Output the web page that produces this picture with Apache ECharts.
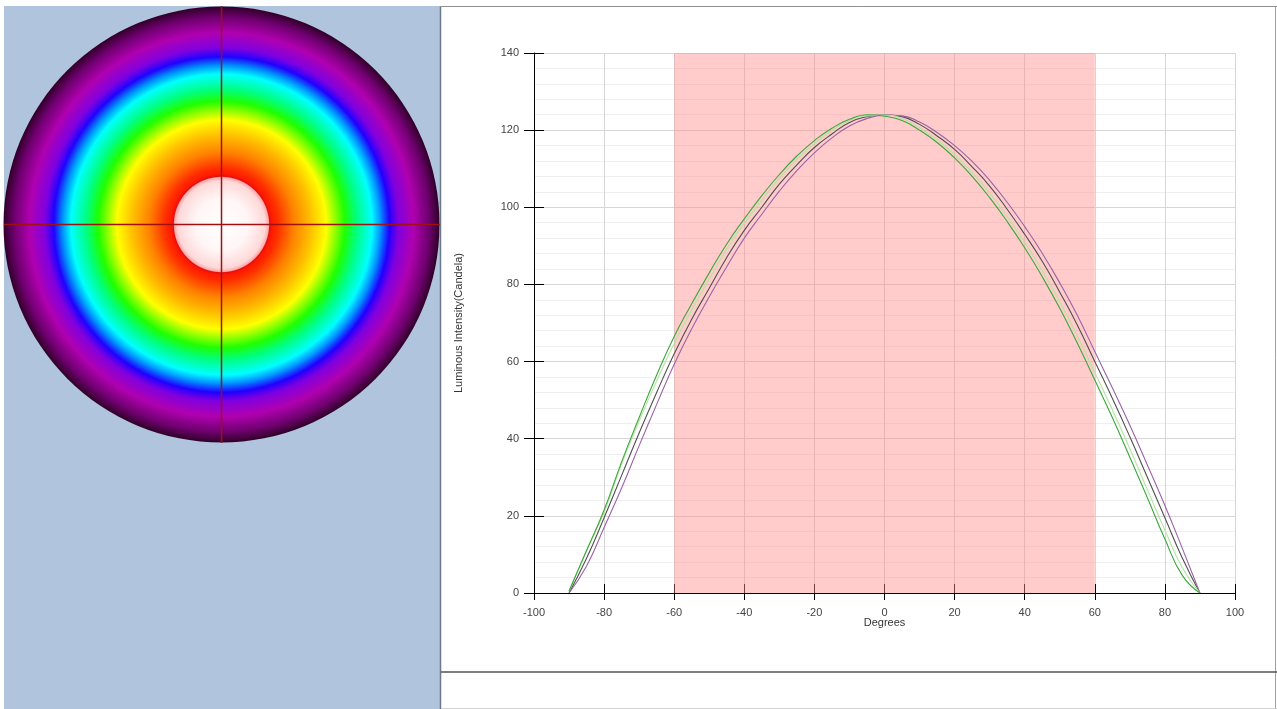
<!DOCTYPE html>
<html><head><meta charset="utf-8">
<script src="https://cdn.jsdelivr.net/npm/echarts@6/dist/echarts.min.js"></script>
<style>html,body{margin:0;padding:0;background:#fff;}#c{width:1277px;height:709px;}</style>
</head><body><div id="c"></div>
<script>
const degrees = [-90,-85,-80,-75,-70,-65,-60,-55,-50,-45,-40,-35,-30,-25,-20,-15,-10,-5,0,5,10,15,20,25,30,35,40,45,50,55,60,65,70,75,80,85,90];
const curveGreen = [0.5,11,21.5,34,45.5,56.5,66.5,75,83,90.5,97,103,108.5,113.3,117.3,120.5,122.8,124,123.6,122.5,120,116.8,112.8,108,102.5,96.3,89.5,82,73.8,64.8,55.2,45.5,35.2,24.7,14,4.5,0];
const curvePaleGreen = [0.5,11,21,33.5,44.6,55,64.7,73.4,81.4,89.1,95.8,101.8,107.5,112.4,116.5,119.9,122.5,123.7,123.9,123,120.6,117.5,113.7,109,103.7,97.6,90.9,83.6,75.5,66.7,57.2,47.5,37.4,26.8,16.3,6.5,0];
const curveDark = [0,9,19.5,30.5,41.5,52,62,71,79,87,94,100,106,111,115.5,119,122,123.5,124,123.5,121.5,118.5,115,110.5,105.5,99.5,93,86,78,69.5,60,50.5,40.5,30,19.5,9,0];
const curvePurple = [0,7,17,27.2,38.2,48.9,59.3,68.5,76.8,84.6,92,98.2,104.2,109.5,114.1,118,121.1,123,123.9,123.7,122.1,119.4,116,111.9,107,101.3,95,88.1,80.4,72,62.6,53.2,43.5,33.2,22.7,11.5,0];
const xTicks = [-100,-80,-60,-40,-20,0,20,40,60,80,100];
const yTicks = [0,20,40,60,80,100,120,140];
const highlightRange = [-60, 60];
const xName = 'Degrees';
const yName = 'Luminous Intensity(Candela)';

const FONT = 'Liberation Sans, Arial, sans-serif';
const xMin = xTicks[0], xMax = xTicks[xTicks.length-1], xInt = xTicks[1]-xTicks[0];
const yMin = yTicks[0], yMax = yTicks[yTicks.length-1], yInt = yTicks[1]-yTicks[0];
const pairs = arr => degrees.map((d,i)=>[d, arr[i]]);

const chart = echarts.init(document.getElementById('c'), null, {renderer:'canvas'});

const labelStyle = {color:'#444', fontSize:11, fontFamily:FONT};
const lineSeries = (name, arr, color, w) => ({
  name, type:'line', data:pairs(arr), smooth:true, showSymbol:false, z:3,
  lineStyle:{color, width:w}, itemStyle:{color}, silent:true
});

chart.setOption({
  animation:false,
  backgroundColor:'#ffffff',
  grid:{left:534, right:42, top:53, bottom:116, containLabel:false},
  xAxis:[{
    type:'value', min:xMin, max:xMax, interval:xInt,
    name:xName, nameLocation:'middle', nameGap:24, nameMoveOverlap:false,
    nameTextStyle:{color:'#333', fontSize:11, fontFamily:FONT},
    axisLine:{show:true, onZero:false, lineStyle:{color:'#000', width:1}},
    axisTick:{show:true, length:7, lineStyle:{color:'#000'}},
    axisLabel:{...labelStyle, margin:14},
    splitLine:{show:true, lineStyle:{color:'#d6d6d6', width:1}}
  },{
    type:'value', min:xMin, max:xMax, interval:xInt, position:'bottom', offset:0,
    axisLine:{show:false, onZero:false}, axisTick:{show:true, inside:true, length:9, lineStyle:{color:'#000'}},
    axisLabel:{show:false}, splitLine:{show:false}
  }],
  yAxis:[{
    type:'value', min:yMin, max:yMax, interval:yInt,
    name:yName, nameLocation:'middle', nameGap:70, nameMoveOverlap:false,
    nameTextStyle:{color:'#333', fontSize:11, fontFamily:FONT},
    axisLine:{show:true, onZero:false, lineStyle:{color:'#000', width:1}},
    axisTick:{show:true, length:10, lineStyle:{color:'#000'}},
    axisLabel:{...labelStyle, margin:15},
    splitLine:{show:true, lineStyle:{color:'#d6d6d6', width:1}},
    minorTick:{show:false, splitNumber:5},
    minorSplitLine:{show:true, lineStyle:{color:'#efefef', width:1}}
  },{
    type:'value', min:yMin, max:yMax, interval:yInt, position:'left', offset:0,
    axisLine:{show:false, onZero:false}, axisTick:{show:true, inside:true, length:10, lineStyle:{color:'#000'}},
    axisLabel:{show:false}, splitLine:{show:false}
  }],
  series:[
    {type:'line', data:[], z:1, silent:true,
     markArea:{silent:true, itemStyle:{color:'rgba(255,140,140,0.45)'},
       data:[[{xAxis:highlightRange[0]},{xAxis:highlightRange[1]}]]}},
    lineSeries('Dark', curveDark, '#505050', 1.1),
    lineSeries('Purple', curvePurple, '#9a62a8', 1.1),
    lineSeries('PaleGreen', curvePaleGreen, '#b4e4a0', 1.1),
    lineSeries('Green', curveGreen, '#3aa83a', 1.1)
  ],
  graphic:[
    {type:'rect', z:-5, silent:true, shape:{x:4, y:6, width:436, height:703}, style:{fill:'#b0c4de'}},
    {type:'circle', z:1, silent:true, shape:{cx:221.5, cy:224.5, r:218},
     style:{fill:new echarts.graphic.RadialGradient(0.5,0.5,0.5,[
       {offset:0, color:'#ffffff'},
       {offset:0.12, color:'#fff6f6'},
       {offset:0.2, color:'#ffd8d8'},
       {offset:0.216, color:'#ffa8a8'},
       {offset:0.221, color:'#e01010'},
       {offset:0.23, color:'#ff1800'},
       {offset:0.26, color:'#ff3000'},
       {offset:0.33, color:'#ff8000'},
       {offset:0.41, color:'#ffc000'},
       {offset:0.48, color:'#ffff00'},
       {offset:0.565, color:'#20ff00'},
       {offset:0.62, color:'#00ff80'},
       {offset:0.69, color:'#00ffff'},
       {offset:0.73, color:'#0090ff'},
       {offset:0.77, color:'#2000ff'},
       {offset:0.81, color:'#8000e0'},
       {offset:0.88, color:'#b000b0'},
       {offset:0.95, color:'#700070'},
       {offset:1, color:'#300028'}
     ])}},
    {type:'line', z:2, silent:true, shape:{x1:221.5, y1:6, x2:221.5, y2:443}, style:{stroke:'#a01010', lineWidth:1.5}},
    {type:'line', z:2, silent:true, shape:{x1:4, y1:224.5, x2:440, y2:224.5}, style:{stroke:'#a01010', lineWidth:1.5}},
    {type:'line', z:2, silent:true, shape:{x1:440.5, y1:6, x2:440.5, y2:709}, style:{stroke:'#6a7a8a', lineWidth:1.5}},
    {type:'line', z:2, silent:true, shape:{x1:440, y1:6.5, x2:1277, y2:6.5}, style:{stroke:'#909090', lineWidth:1}},
    {type:'line', z:2, silent:true, shape:{x1:1275.5, y1:6, x2:1275.5, y2:709}, style:{stroke:'#a0a0a0', lineWidth:1}},
    {type:'line', z:2, silent:true, shape:{x1:441, y1:672, x2:1277, y2:672}, style:{stroke:'#555555', lineWidth:1.5}},
    {type:'line', z:2, silent:true, shape:{x1:441, y1:708.5, x2:1277, y2:708.5}, style:{stroke:'#d0d0d0', lineWidth:1}}
  ]
});
</script></body></html>
